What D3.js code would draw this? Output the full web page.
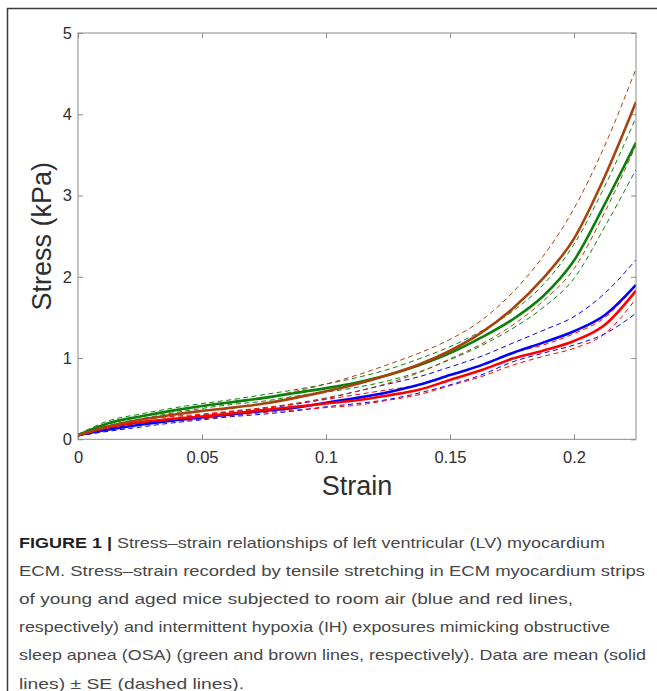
<!DOCTYPE html>
<html>
<head>
<meta charset="utf-8">
<script src="https://cdn.jsdelivr.net/npm/d3@7/dist/d3.min.js"></script>
<style>
  body { margin: 0; background: #fff; }
  svg { display: block; font-family: "Liberation Sans", Arial, Helvetica, sans-serif; }
  .tick text { fill: #2e2e2e; font-size: 16.5px; }
  .tick line { stroke: #8a8a8a; }
  .domain { stroke: none; }
</style>
</head>
<body>
<div id="chart"></div>
<script>
// strain grid (x) and stress values (kPa)
var strain = [0, 0.0125, 0.025, 0.0375, 0.05, 0.0625, 0.075, 0.0875, 0.1, 0.1125,
              0.125, 0.1375, 0.15, 0.1625, 0.175, 0.1875, 0.2, 0.2125, 0.225];

// young, room air (blue)
var blueMean  = [0.05, 0.12, 0.18, 0.23, 0.27, 0.31, 0.35, 0.39, 0.45, 0.51, 0.58, 0.67, 0.79, 0.91, 1.06, 1.19, 1.33, 1.53, 1.90];
var blueUpper = [0.06, 0.14, 0.20, 0.25, 0.30, 0.34, 0.38, 0.43, 0.50, 0.59, 0.68, 0.77, 0.89, 1.02, 1.18, 1.34, 1.51, 1.80, 2.21];
var blueLower = [0.04, 0.10, 0.15, 0.20, 0.24, 0.28, 0.31, 0.35, 0.40, 0.44, 0.49, 0.57, 0.67, 0.79, 0.95, 1.06, 1.16, 1.30, 1.55];

// aged, room air (red)
var redMean  = [0.05, 0.15, 0.21, 0.25, 0.28, 0.32, 0.36, 0.40, 0.44, 0.48, 0.54, 0.61, 0.73, 0.85, 0.99, 1.09, 1.21, 1.41, 1.83];
var redUpper = [0.06, 0.17, 0.24, 0.28, 0.31, 0.35, 0.39, 0.44, 0.49, 0.55, 0.61, 0.67, 0.79, 0.91, 1.06, 1.16, 1.30, 1.50, 1.90];
var redLower = [0.04, 0.13, 0.18, 0.22, 0.25, 0.29, 0.33, 0.36, 0.39, 0.42, 0.48, 0.55, 0.66, 0.77, 0.91, 1.02, 1.12, 1.30, 1.73];

// young, IH (green)
var greenMean  = [0.05, 0.20, 0.28, 0.35, 0.41, 0.46, 0.51, 0.57, 0.63, 0.70, 0.79, 0.91, 1.06, 1.25, 1.47, 1.76, 2.20, 2.90, 3.65];
var greenUpper = [0.06, 0.23, 0.31, 0.38, 0.44, 0.49, 0.55, 0.61, 0.68, 0.76, 0.86, 0.99, 1.14, 1.33, 1.57, 1.90, 2.40, 3.12, 3.96];
var greenLower = [0.04, 0.17, 0.25, 0.32, 0.38, 0.43, 0.47, 0.53, 0.58, 0.64, 0.72, 0.83, 0.98, 1.15, 1.36, 1.62, 1.98, 2.62, 3.32];

// aged, IH (brown)
var brownMean  = [0.05, 0.16, 0.24, 0.30, 0.35, 0.39, 0.44, 0.51, 0.59, 0.68, 0.79, 0.92, 1.09, 1.31, 1.60, 1.98, 2.47, 3.24, 4.15];
var brownUpper = [0.06, 0.19, 0.28, 0.34, 0.40, 0.45, 0.51, 0.59, 0.68, 0.79, 0.92, 1.06, 1.23, 1.46, 1.80, 2.25, 2.84, 3.62, 4.56];
var brownLower = [0.04, 0.13, 0.20, 0.26, 0.30, 0.34, 0.38, 0.44, 0.51, 0.59, 0.69, 0.82, 0.99, 1.17, 1.40, 1.70, 2.10, 2.80, 3.62];

var xTicks = [0, 0.05, 0.1, 0.15, 0.2];
var yTicks = [0, 1, 2, 3, 4, 5];

var captionLines = [
    "Stress\u2013strain relationships of left ventricular (LV) myocardium",
    "ECM. Stress\u2013strain recorded by tensile stretching in ECM myocardium strips",
    "of young and aged mice subjected to room air (blue and red lines,",
    "respectively) and intermittent hypoxia (IH) exposures mimicking obstructive",
    "sleep apnea (OSA) (green and brown lines, respectively). Data are mean (solid",
    "lines) \u00b1 SE (dashed lines)."
];
// measured line widths in the figure
var captionWidths = [586, 626, 554, 591, 627, 225];

var groups = [
    {name: "blue",  color: "#0000ff", mean: blueMean,  upper: blueUpper,  lower: blueLower},
    {name: "red",   color: "#ff0000", mean: redMean,   upper: redUpper,   lower: redLower},
    {name: "green", color: "#0a820a", mean: greenMean, upper: greenUpper, lower: greenLower},
    {name: "brown", color: "#a8420f", mean: brownMean, upper: brownUpper, lower: brownLower}
];

var width = 657, height = 691;
var plot = {left: 78, right: 636, top: 33, bottom: 439.3};

var svg = d3.select("#chart").append("svg")
    .attr("width", width)
    .attr("height", height);

// figure frame (top and left edges)
svg.append("path")
    .attr("d", "M7.5,691 V8.5 H657")
    .attr("fill", "none")
    .attr("stroke", "#3c3c3c")
    .attr("stroke-width", 1.5);

var xScale = d3.scaleLinear().domain([0, 0.225]).range([plot.left, plot.right]);
var yScale = d3.scaleLinear().domain([0, 5]).range([plot.bottom, plot.top]);

// axes, ticks pointing inward on all four sides
svg.append("g")
    .attr("transform", "translate(0," + plot.bottom + ")")
    .call(d3.axisBottom(xScale).tickValues(xTicks).tickSizeInner(-5).tickSizeOuter(0)
        .tickPadding(12).tickFormat(d3.format("")));

svg.append("g")
    .attr("transform", "translate(0," + plot.top + ")")
    .call(d3.axisTop(xScale).tickValues(xTicks).tickSizeInner(-5).tickSizeOuter(0).tickFormat(""));

svg.append("g")
    .attr("transform", "translate(" + plot.left + ",0)")
    .call(d3.axisLeft(yScale).tickValues(yTicks).tickSizeInner(-5).tickSizeOuter(0)
        .tickPadding(6).tickFormat(d3.format("d")));

svg.append("g")
    .attr("transform", "translate(" + plot.right + ",0)")
    .call(d3.axisRight(yScale).tickValues(yTicks).tickSizeInner(-5).tickSizeOuter(0).tickFormat(""));

svg.selectAll(".tick text").attr("font-family", null);

svg.append("clipPath").attr("id", "plotclip")
    .append("rect")
    .attr("x", plot.left).attr("y", plot.top)
    .attr("width", plot.right - plot.left).attr("height", plot.bottom - plot.top);

var line = function(values){
    return d3.line()
        .x(function(d, i){ return xScale(strain[i]); })
        .y(function(d){ return yScale(d); })
        .curve(d3.curveMonotoneX)(values);
};

var curves = svg.append("g").attr("clip-path", "url(#plotclip)");

// SE (dashed) first, then the means on top
groups.forEach(function(g){
    [g.upper, g.lower].forEach(function(v){
        curves.append("path")
            .attr("d", line(v))
            .attr("fill", "none")
            .attr("stroke", g.color)
            .attr("stroke-width", 1)
            .attr("stroke-dasharray", "5,3.5");
    });
});
groups.forEach(function(g){
    curves.append("path")
        .attr("d", line(g.mean))
        .attr("fill", "none")
        .attr("stroke", g.color)
        .attr("stroke-width", 2.6)
        .attr("stroke-linejoin", "round");
});

// plot box
svg.append("rect")
    .attr("x", plot.left).attr("y", plot.top)
    .attr("width", plot.right - plot.left).attr("height", plot.bottom - plot.top)
    .attr("fill", "none")
    .attr("stroke", "#8a8a8a")
    .attr("stroke-width", 1);

// axis labels
svg.append("text")
    .attr("x", (plot.left + plot.right) / 2)
    .attr("y", 495)
    .attr("text-anchor", "middle")
    .attr("font-size", 27)
    .attr("fill", "#2e2e2e")
    .text("Strain");

svg.append("text")
    .attr("transform", "translate(51," + ((plot.top + plot.bottom) / 2) + ") rotate(-90)")
    .attr("text-anchor", "middle")
    .attr("font-size", 27)
    .attr("fill", "#2e2e2e")
    .text("Stress (kPa)");

// caption
var caption = svg.append("g")
    .attr("font-size", 15)
    .attr("fill", "#474747");

captionLines.forEach(function(t, i){
    var txt = caption.append("text")
        .attr("x", 19)
        .attr("y", 548 + i * 28.1)
        .attr("textLength", captionWidths[i])
        .attr("lengthAdjust", "spacingAndGlyphs");
    if (i == 0) {
        txt.append("tspan")
            .attr("font-weight", "bold")
            .attr("fill", "#1e1e1e")
            .text("FIGURE 1 |");
        txt.append("tspan").text(" " + t);
    } else {
        txt.text(t);
    }
});
</script>
</body>
</html>
